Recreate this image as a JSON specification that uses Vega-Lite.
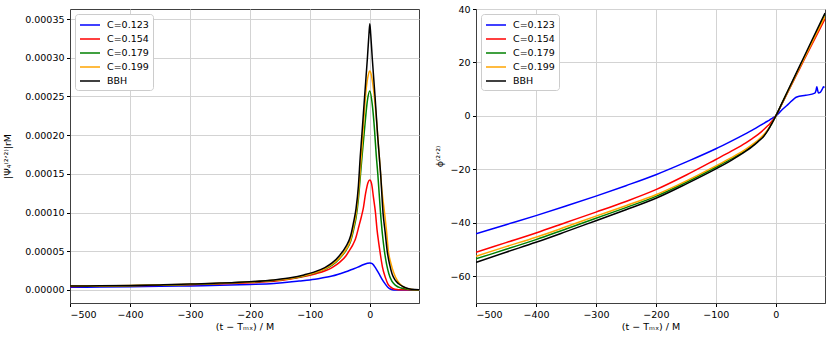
{
  "$schema": "https://vega.github.io/schema/vega-lite/v6.json",
  "padding": {"left": 2, "top": 3, "right": 2, "bottom": 2},
  "background": "white",
  "spacing": 57,
  "bounds": "flush",
  "config": {
    "font": "DejaVu Sans",
    "view": {"stroke": "#404040", "strokeWidth": 1},
    "axis": {
      "labelFont": "DejaVu Sans", "labelFontSize": 9.5, "labelColor": "#000",
      "titleFont": "DejaVu Sans", "titleFontSize": 9.5, "titleColor": "#000", "titleFontWeight": "normal",
      "tickColor": "#000", "tickSize": 3.5, "labelPadding": 2.5,
      "domainColor": "#404040", "gridColor": "#d3d3d3", "gridWidth": 1
    },
    "legend": {
      "orient": "top-left", "offset": 5, "title": null,
      "labelFont": "DejaVu Sans", "labelFontSize": 9.5, "labelColor": "#000",
      "symbolType": "M-1.667,0H1.667", "symbolSize": 144, "symbolStrokeWidth": 1.5, "symbolOffset": 4,
      "labelOffset": 10, "padding": 4, "rowPadding": 2,
      "strokeColor": "#cccccc", "fillColor": "white", "cornerRadius": 3
    }
  },
  "datasets": {
    "amp": [
      {"s":"C=0.123","t":-500,"v":3.5e-6},{"s":"C=0.123","t":-450,"v":3.8e-6},{"s":"C=0.123","t":-400,"v":4.2e-6},{"s":"C=0.123","t":-350,"v":4.7e-6},{"s":"C=0.123","t":-300,"v":5.3e-6},{"s":"C=0.123","t":-250,"v":6.1e-6},{"s":"C=0.123","t":-200,"v":7.2e-6},{"s":"C=0.123","t":-160,"v":8.5e-6},{"s":"C=0.123","t":-130,"v":1.05e-5},{"s":"C=0.123","t":-118,"v":1.15e-5},{"s":"C=0.123","t":-100,"v":1.3e-5},{"s":"C=0.123","t":-80,"v":1.55e-5},{"s":"C=0.123","t":-63,"v":1.8e-5},{"s":"C=0.123","t":-50,"v":2.1e-5},{"s":"C=0.123","t":-40,"v":2.35e-5},{"s":"C=0.123","t":-30,"v":2.65e-5},{"s":"C=0.123","t":-20,"v":2.95e-5},{"s":"C=0.123","t":-10,"v":3.3e-5},{"s":"C=0.123","t":-4,"v":3.45e-5},{"s":"C=0.123","t":0,"v":3.5e-5},{"s":"C=0.123","t":4,"v":3.4e-5},{"s":"C=0.123","t":10,"v":2.8e-5},{"s":"C=0.123","t":15,"v":2.15e-5},{"s":"C=0.123","t":20,"v":1.45e-5},{"s":"C=0.123","t":25,"v":8.5e-6},{"s":"C=0.123","t":30,"v":3.5e-6},{"s":"C=0.123","t":35,"v":1e-6},{"s":"C=0.123","t":40,"v":1e-7},{"s":"C=0.123","t":50,"v":0},{"s":"C=0.123","t":82,"v":0},
      {"s":"C=0.154","t":-500,"v":4.5e-6},{"s":"C=0.154","t":-450,"v":4.9e-6},{"s":"C=0.154","t":-400,"v":5.4e-6},{"s":"C=0.154","t":-350,"v":6.0e-6},{"s":"C=0.154","t":-300,"v":6.8e-6},{"s":"C=0.154","t":-250,"v":7.9e-6},{"s":"C=0.154","t":-200,"v":9.4e-6},{"s":"C=0.154","t":-160,"v":1.12e-5},{"s":"C=0.154","t":-130,"v":1.45e-5},{"s":"C=0.154","t":-110,"v":1.75e-5},{"s":"C=0.154","t":-90,"v":2.1e-5},{"s":"C=0.154","t":-63,"v":2.9e-5},{"s":"C=0.154","t":-50,"v":3.6e-5},{"s":"C=0.154","t":-40,"v":4.4e-5},{"s":"C=0.154","t":-35,"v":5.0e-5},{"s":"C=0.154","t":-28,"v":5.9e-5},{"s":"C=0.154","t":-24,"v":6.6e-5},{"s":"C=0.154","t":-18,"v":8.3e-5},{"s":"C=0.154","t":-14,"v":9.5e-5},{"s":"C=0.154","t":-11,"v":1.05e-4},{"s":"C=0.154","t":-7,"v":1.25e-4},{"s":"C=0.154","t":-3,"v":1.39e-4},{"s":"C=0.154","t":0,"v":1.42e-4},{"s":"C=0.154","t":3,"v":1.37e-4},{"s":"C=0.154","t":6,"v":1.2e-4},{"s":"C=0.154","t":9.4,"v":1.0e-4},{"s":"C=0.154","t":12,"v":7.8e-5},{"s":"C=0.154","t":15,"v":6.0e-5},{"s":"C=0.154","t":17.8,"v":4.5e-5},{"s":"C=0.154","t":21,"v":3.0e-5},{"s":"C=0.154","t":26,"v":1.6e-5},{"s":"C=0.154","t":30,"v":8e-6},{"s":"C=0.154","t":34.4,"v":4e-6},{"s":"C=0.154","t":42,"v":1e-6},{"s":"C=0.154","t":55,"v":2e-7},{"s":"C=0.154","t":82,"v":0},
      {"s":"C=0.179","t":-500,"v":4.7e-6},{"s":"C=0.179","t":-450,"v":5.1e-6},{"s":"C=0.179","t":-400,"v":5.6e-6},{"s":"C=0.179","t":-350,"v":6.3e-6},{"s":"C=0.179","t":-300,"v":7.2e-6},{"s":"C=0.179","t":-250,"v":8.5e-6},{"s":"C=0.179","t":-200,"v":1.02e-5},{"s":"C=0.179","t":-160,"v":1.23e-5},{"s":"C=0.179","t":-130,"v":1.5e-5},{"s":"C=0.179","t":-110,"v":1.8e-5},{"s":"C=0.179","t":-90,"v":2.25e-5},{"s":"C=0.179","t":-75,"v":2.7e-5},{"s":"C=0.179","t":-63,"v":3.2e-5},{"s":"C=0.179","t":-50,"v":4.1e-5},{"s":"C=0.179","t":-40,"v":5.1e-5},{"s":"C=0.179","t":-32,"v":6.3e-5},{"s":"C=0.179","t":-27,"v":7.8e-5},{"s":"C=0.179","t":-23,"v":9.3e-5},{"s":"C=0.179","t":-19,"v":1.18e-4},{"s":"C=0.179","t":-15.5,"v":1.5e-4},{"s":"C=0.179","t":-12.7,"v":1.75e-4},{"s":"C=0.179","t":-8,"v":2.15e-4},{"s":"C=0.179","t":-4,"v":2.45e-4},{"s":"C=0.179","t":0,"v":2.57e-4},{"s":"C=0.179","t":4,"v":2.4e-4},{"s":"C=0.179","t":8,"v":2.05e-4},{"s":"C=0.179","t":10.6,"v":1.75e-4},{"s":"C=0.179","t":13.3,"v":1.5e-4},{"s":"C=0.179","t":17.8,"v":1.0e-4},{"s":"C=0.179","t":21,"v":7.2e-5},{"s":"C=0.179","t":24.4,"v":5.0e-5},{"s":"C=0.179","t":28,"v":3.3e-5},{"s":"C=0.179","t":31.7,"v":2.1e-5},{"s":"C=0.179","t":37,"v":1.1e-5},{"s":"C=0.179","t":43,"v":6e-6},{"s":"C=0.179","t":52,"v":2.5e-6},{"s":"C=0.179","t":62,"v":1e-6},{"s":"C=0.179","t":72,"v":4e-7},{"s":"C=0.179","t":82,"v":1e-7},
      {"s":"C=0.199","t":-500,"v":4.8e-6},{"s":"C=0.199","t":-450,"v":5.2e-6},{"s":"C=0.199","t":-400,"v":5.7e-6},{"s":"C=0.199","t":-350,"v":6.4e-6},{"s":"C=0.199","t":-300,"v":7.3e-6},{"s":"C=0.199","t":-250,"v":8.6e-6},{"s":"C=0.199","t":-200,"v":1.03e-5},{"s":"C=0.199","t":-160,"v":1.25e-5},{"s":"C=0.199","t":-130,"v":1.53e-5},{"s":"C=0.199","t":-110,"v":1.85e-5},{"s":"C=0.199","t":-90,"v":2.3e-5},{"s":"C=0.199","t":-75,"v":2.75e-5},{"s":"C=0.199","t":-63,"v":3.3e-5},{"s":"C=0.199","t":-50,"v":4.2e-5},{"s":"C=0.199","t":-40,"v":5.2e-5},{"s":"C=0.199","t":-32,"v":6.5e-5},{"s":"C=0.199","t":-27,"v":8.2e-5},{"s":"C=0.199","t":-23,"v":9.8e-5},{"s":"C=0.199","t":-19,"v":1.25e-4},{"s":"C=0.199","t":-16,"v":1.55e-4},{"s":"C=0.199","t":-14,"v":1.75e-4},{"s":"C=0.199","t":-10,"v":2.2e-4},{"s":"C=0.199","t":-6,"v":2.6e-4},{"s":"C=0.199","t":-2.5,"v":2.78e-4},{"s":"C=0.199","t":0,"v":2.83e-4},{"s":"C=0.199","t":2.5,"v":2.78e-4},{"s":"C=0.199","t":6,"v":2.6e-4},{"s":"C=0.199","t":10,"v":2.3e-4},{"s":"C=0.199","t":15,"v":1.8e-4},{"s":"C=0.199","t":17,"v":1.6e-4},{"s":"C=0.199","t":20,"v":1.3e-4},{"s":"C=0.199","t":24.5,"v":1.0e-4},{"s":"C=0.199","t":28,"v":7.5e-5},{"s":"C=0.199","t":31,"v":5.0e-5},{"s":"C=0.199","t":35,"v":3.5e-5},{"s":"C=0.199","t":40,"v":2.2e-5},{"s":"C=0.199","t":46,"v":1.2e-5},{"s":"C=0.199","t":54,"v":5e-6},{"s":"C=0.199","t":62,"v":2e-6},{"s":"C=0.199","t":70,"v":8e-7},{"s":"C=0.199","t":82,"v":2e-7},
      {"s":"BBH","t":-500,"v":5.0e-6},{"s":"BBH","t":-450,"v":5.4e-6},{"s":"BBH","t":-400,"v":5.9e-6},{"s":"BBH","t":-350,"v":6.6e-6},{"s":"BBH","t":-300,"v":7.6e-6},{"s":"BBH","t":-250,"v":8.9e-6},{"s":"BBH","t":-200,"v":1.07e-5},{"s":"BBH","t":-160,"v":1.3e-5},{"s":"BBH","t":-130,"v":1.6e-5},{"s":"BBH","t":-110,"v":1.95e-5},{"s":"BBH","t":-90,"v":2.4e-5},{"s":"BBH","t":-75,"v":2.9e-5},{"s":"BBH","t":-63,"v":3.5e-5},{"s":"BBH","t":-50,"v":4.5e-5},{"s":"BBH","t":-40,"v":5.6e-5},{"s":"BBH","t":-32,"v":7.0e-5},{"s":"BBH","t":-27,"v":8.8e-5},{"s":"BBH","t":-23,"v":1.05e-4},{"s":"BBH","t":-19,"v":1.35e-4},{"s":"BBH","t":-16,"v":1.72e-4},{"s":"BBH","t":-13.3,"v":2.0e-4},{"s":"BBH","t":-8.7,"v":2.5e-4},{"s":"BBH","t":-4,"v":3.0e-4},{"s":"BBH","t":-1.5,"v":3.3e-4},{"s":"BBH","t":0,"v":3.44e-4},{"s":"BBH","t":1.5,"v":3.3e-4},{"s":"BBH","t":4,"v":3.0e-4},{"s":"BBH","t":8.7,"v":2.5e-4},{"s":"BBH","t":13,"v":2.0e-4},{"s":"BBH","t":15.5,"v":1.75e-4},{"s":"BBH","t":18,"v":1.5e-4},{"s":"BBH","t":22,"v":1.0e-4},{"s":"BBH","t":25.5,"v":7.5e-5},{"s":"BBH","t":29,"v":5.0e-5},{"s":"BBH","t":33,"v":3.3e-5},{"s":"BBH","t":37,"v":2.1e-5},{"s":"BBH","t":42,"v":1.3e-5},{"s":"BBH","t":48,"v":8e-6},{"s":"BBH","t":55,"v":4.5e-6},{"s":"BBH","t":62,"v":2.2e-6},{"s":"BBH","t":70,"v":1.0e-6},{"s":"BBH","t":82,"v":3e-7}
    ],
    "phase": [
      {"s":"C=0.123","t":-500,"v":-44.1},{"s":"C=0.123","t":-450,"v":-40.7},{"s":"C=0.123","t":-400,"v":-37.3},{"s":"C=0.123","t":-350,"v":-33.7},{"s":"C=0.123","t":-300,"v":-30.0},{"s":"C=0.123","t":-250,"v":-26.1},{"s":"C=0.123","t":-200,"v":-22.0},{"s":"C=0.123","t":-150,"v":-17.3},{"s":"C=0.123","t":-100,"v":-12.3},{"s":"C=0.123","t":-75,"v":-9.5},{"s":"C=0.123","t":-50,"v":-6.6},{"s":"C=0.123","t":-40,"v":-5.4},{"s":"C=0.123","t":-30,"v":-4.1},{"s":"C=0.123","t":-20,"v":-2.8},{"s":"C=0.123","t":-14,"v":-2.0},{"s":"C=0.123","t":-10,"v":-1.45},{"s":"C=0.123","t":-7,"v":-1.0},{"s":"C=0.123","t":-3,"v":-0.45},{"s":"C=0.123","t":0,"v":0},{"s":"C=0.123","t":10,"v":2.2},{"s":"C=0.123","t":20,"v":4.2},{"s":"C=0.123","t":35,"v":7.1},{"s":"C=0.123","t":50,"v":7.7},{"s":"C=0.123","t":65,"v":8.5},{"s":"C=0.123","t":67,"v":9.5},{"s":"C=0.123","t":68.3,"v":10.9},{"s":"C=0.123","t":69.5,"v":9.8},{"s":"C=0.123","t":71,"v":8.6},{"s":"C=0.123","t":74,"v":8.8},{"s":"C=0.123","t":77,"v":9.8},{"s":"C=0.123","t":79.6,"v":10.9},{"s":"C=0.123","t":81,"v":10.6},
      {"s":"C=0.154","t":-500,"v":-51.0},{"s":"C=0.154","t":-450,"v":-47.4},{"s":"C=0.154","t":-400,"v":-43.8},{"s":"C=0.154","t":-350,"v":-39.9},{"s":"C=0.154","t":-300,"v":-36.0},{"s":"C=0.154","t":-250,"v":-32.0},{"s":"C=0.154","t":-200,"v":-27.6},{"s":"C=0.154","t":-150,"v":-22.2},{"s":"C=0.154","t":-100,"v":-16.3},{"s":"C=0.154","t":-75,"v":-13.3},{"s":"C=0.154","t":-50,"v":-10.1},{"s":"C=0.154","t":-40,"v":-8.6},{"s":"C=0.154","t":-30,"v":-7.0},{"s":"C=0.154","t":-20,"v":-5.1},{"s":"C=0.154","t":-14,"v":-3.8},{"s":"C=0.154","t":-10,"v":-2.9},{"s":"C=0.154","t":-7,"v":-2.1},{"s":"C=0.154","t":-3,"v":-0.95},{"s":"C=0.154","t":0,"v":0},{"s":"C=0.154","t":10,"v":4.4},{"s":"C=0.154","t":20,"v":8.9},{"s":"C=0.154","t":40,"v":17.8},{"s":"C=0.154","t":60,"v":26.7},{"s":"C=0.154","t":82,"v":36.3},
      {"s":"C=0.179","t":-500,"v":-53.5},{"s":"C=0.179","t":-450,"v":-49.9},{"s":"C=0.179","t":-400,"v":-46.3},{"s":"C=0.179","t":-350,"v":-42.3},{"s":"C=0.179","t":-300,"v":-38.3},{"s":"C=0.179","t":-250,"v":-34.3},{"s":"C=0.179","t":-200,"v":-30.1},{"s":"C=0.179","t":-150,"v":-24.9},{"s":"C=0.179","t":-100,"v":-19.2},{"s":"C=0.179","t":-75,"v":-16.2},{"s":"C=0.179","t":-50,"v":-12.8},{"s":"C=0.179","t":-40,"v":-11.2},{"s":"C=0.179","t":-30,"v":-9.4},{"s":"C=0.179","t":-20,"v":-7.3},{"s":"C=0.179","t":-14,"v":-5.5},{"s":"C=0.179","t":-10,"v":-4.1},{"s":"C=0.179","t":-7,"v":-2.95},{"s":"C=0.179","t":-3,"v":-1.28},{"s":"C=0.179","t":0,"v":0},{"s":"C=0.179","t":10,"v":4.6},{"s":"C=0.179","t":20,"v":9.2},{"s":"C=0.179","t":40,"v":18.4},{"s":"C=0.179","t":60,"v":27.6},{"s":"C=0.179","t":82,"v":37.8},
      {"s":"C=0.199","t":-500,"v":-52.5},{"s":"C=0.199","t":-450,"v":-48.9},{"s":"C=0.199","t":-400,"v":-45.4},{"s":"C=0.199","t":-350,"v":-41.5},{"s":"C=0.199","t":-300,"v":-37.5},{"s":"C=0.199","t":-250,"v":-33.6},{"s":"C=0.199","t":-200,"v":-29.5},{"s":"C=0.199","t":-150,"v":-24.4},{"s":"C=0.199","t":-100,"v":-18.7},{"s":"C=0.199","t":-75,"v":-15.7},{"s":"C=0.199","t":-50,"v":-12.4},{"s":"C=0.199","t":-40,"v":-10.8},{"s":"C=0.199","t":-30,"v":-9.1},{"s":"C=0.199","t":-20,"v":-7.0},{"s":"C=0.199","t":-14,"v":-5.3},{"s":"C=0.199","t":-10,"v":-4.0},{"s":"C=0.199","t":-7,"v":-2.9},{"s":"C=0.199","t":-3,"v":-1.25},{"s":"C=0.199","t":0,"v":0},{"s":"C=0.199","t":10,"v":4.5},{"s":"C=0.199","t":20,"v":9.1},{"s":"C=0.199","t":40,"v":18.2},{"s":"C=0.199","t":60,"v":27.3},{"s":"C=0.199","t":82,"v":37.3},
      {"s":"BBH","t":-500,"v":-54.8},{"s":"BBH","t":-450,"v":-51.0},{"s":"BBH","t":-400,"v":-47.3},{"s":"BBH","t":-350,"v":-43.3},{"s":"BBH","t":-300,"v":-39.2},{"s":"BBH","t":-250,"v":-35.1},{"s":"BBH","t":-200,"v":-30.8},{"s":"BBH","t":-150,"v":-25.5},{"s":"BBH","t":-100,"v":-19.8},{"s":"BBH","t":-75,"v":-16.7},{"s":"BBH","t":-50,"v":-13.2},{"s":"BBH","t":-40,"v":-11.6},{"s":"BBH","t":-30,"v":-9.7},{"s":"BBH","t":-20,"v":-7.6},{"s":"BBH","t":-14,"v":-5.7},{"s":"BBH","t":-10,"v":-4.2},{"s":"BBH","t":-7,"v":-3.0},{"s":"BBH","t":-3,"v":-1.3},{"s":"BBH","t":0,"v":0},{"s":"BBH","t":10,"v":4.7},{"s":"BBH","t":20,"v":9.4},{"s":"BBH","t":40,"v":18.8},{"s":"BBH","t":60,"v":28.2},{"s":"BBH","t":82,"v":38.5}
    ]
  },
  "hconcat": [
    {
      "width": 349, "height": 294,
      "data": {"name": "amp"},
      "mark": {"type": "line", "strokeWidth": 1.5, "clip": true, "interpolate": "monotone"},
      "encoding": {
        "x": {"field": "t", "type": "quantitative", "scale": {"domain": [-500, 82], "nice": false, "zero": false},
              "axis": {"values": [-500, -400, -300, -200, -100, 0], "format": "d", "title": "(t − Tₘₓ) / M", "titlePadding": 3}},
        "y": {"field": "v", "type": "quantitative", "scale": {"domain": [-0.0000168, 0.000363], "nice": false, "zero": false},
              "axis": {"values": [0, 0.00005, 0.0001, 0.00015, 0.0002, 0.00025, 0.0003, 0.00035], "format": ".5f", "title": "|Ψ₄⁽²ʼ²⁾|rM", "titlePadding": 12}},
        "color": {"field": "s", "type": "nominal",
                  "scale": {"domain": ["C=0.123", "C=0.154", "C=0.179", "C=0.199", "BBH"], "range": ["#0000ff", "#ff0000", "#008000", "#ffa500", "#000000"]},
                  "legend": {}}
      }
    },
    {
      "width": 349, "height": 294,
      "data": {"name": "phase"},
      "mark": {"type": "line", "strokeWidth": 1.5, "clip": true, "interpolate": "monotone"},
      "encoding": {
        "x": {"field": "t", "type": "quantitative", "scale": {"domain": [-500, 82], "nice": false, "zero": false},
              "axis": {"values": [-500, -400, -300, -200, -100, 0], "format": "d", "title": "(t − Tₘₓ) / M", "titlePadding": 3}},
        "y": {"field": "v", "type": "quantitative", "scale": {"domain": [-70, 40], "nice": false, "zero": false},
              "axis": {"values": [-60, -40, -20, 0, 20, 40], "format": "d", "title": "ϕ⁽²ʼ²⁾", "titlePadding": 5}},
        "color": {"field": "s", "type": "nominal",
                  "scale": {"domain": ["C=0.123", "C=0.154", "C=0.179", "C=0.199", "BBH"], "range": ["#0000ff", "#ff0000", "#008000", "#ffa500", "#000000"]},
                  "legend": {}}
      }
    }
  ],
  "resolve": {"scale": {"color": "independent"}, "legend": {"color": "independent"}}
}
